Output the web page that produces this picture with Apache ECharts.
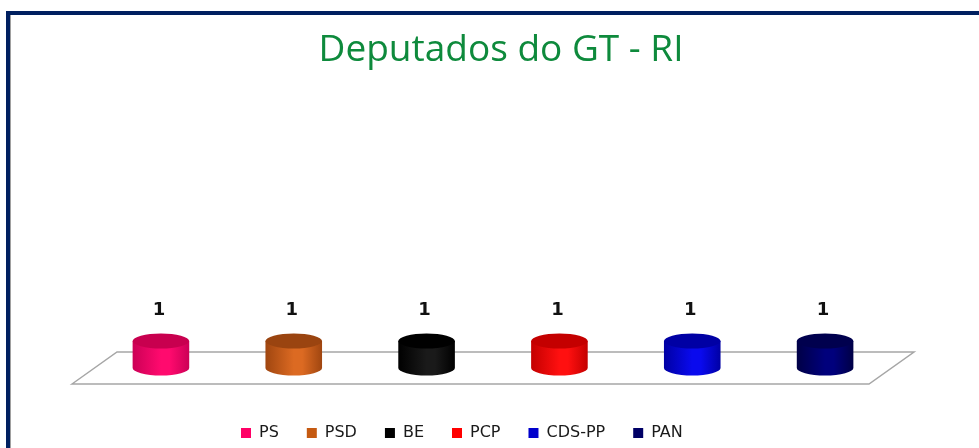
<!DOCTYPE html>
<html>
<head>
<meta charset="utf-8">
<script src="https://cdn.jsdelivr.net/npm/echarts@6/dist/echarts.min.js"></script>
<style>
html,body{margin:0;padding:0;background:#fff;}
#frame{position:absolute;left:6px;top:11px;width:1000px;height:500px;border-left:4px solid #002060;border-top:4px solid #002060;box-sizing:border-box;}
#shade{position:absolute;left:10px;top:15px;width:1px;height:500px;background:#a0a0a0;}
#chart{position:absolute;left:0;top:0;width:979px;height:448px;}
</style>
</head>
<body>
<div id="frame"></div>
<div id="shade"></div>
<div id="chart"></div>
<script>
// ---- data ----
const categories = ['PS', 'PSD', 'BE', 'PCP', 'CDS-PP', 'PAN'];
const deputados = [1, 1, 1, 1, 1, 1];
const titleText = 'Deputados do GT - RI';

// ---- styles ----
const legendColors = ['#ff0066', '#c55a11', '#000000', '#ff0000', '#0000cc', '#000066'];
const bodyLight = ['#ff0a6e', '#dc6a22', '#1a1a1a', '#ff1010', '#0a0aee', '#00007c'];
const bodyDark  = ['#cc0056', '#a04610', '#000000', '#c40000', '#0000a4', '#000046'];
const topColors = ['#c8004f', '#9a4410', '#000000', '#c40000', '#0000a4', '#00004e'];

const chart = echarts.init(document.getElementById('chart'), null, {renderer: 'canvas'});

function makeRender(si) {
  return function (params, api) {
    const children = [];
    const cs = params.coordSys;
    if (si === 0) {
      const y0 = cs.y + cs.height;
      const dx = 22.5, dy = 16;
      children.push({
        type: 'polygon',
        shape: {points: [
          [cs.x - dx, y0 + dy], [cs.x + dx, y0 - dy],
          [cs.x + cs.width + dx, y0 - dy], [cs.x + cs.width - dx, y0 + dy]
        ]},
        style: {fill: '#ffffff', stroke: '#a6a6a6', lineWidth: 1.5}
      });
    }
    const base = api.coord([api.value(0), 0]);
    const top = api.coord([api.value(0), api.value(1)]);
    const band = api.size([1, 0])[0];
    const rx = band * 0.213;
    const ry = 7.5;
    const x = base[0];
    const path = 'M' + (x - rx) + ' ' + top[1] +
      ' L' + (x - rx) + ' ' + base[1] +
      ' A' + rx + ' ' + ry + ' 0 0 0 ' + (x + rx) + ' ' + base[1] +
      ' L' + (x + rx) + ' ' + top[1] + ' Z';
    children.push({
      type: 'path',
      shape: {pathData: path},
      style: {
        fill: new echarts.graphic.LinearGradient(0, 0, 1, 0, [
          {offset: 0, color: bodyDark[si]},
          {offset: 0.5, color: bodyLight[si]},
          {offset: 0.65, color: bodyLight[si]},
          {offset: 1, color: bodyDark[si]}
        ])
      }
    });
    const tp = 'M' + (x - rx) + ' ' + top[1] +
      ' A' + rx + ' ' + ry + ' 0 0 1 ' + (x + rx) + ' ' + top[1] +
      ' A' + rx + ' ' + ry + ' 0 0 1 ' + (x - rx) + ' ' + top[1] + ' Z';
    children.push({
      type: 'path',
      shape: {pathData: tp},
      style: {fill: topColors[si]}
    });
    children.push({
      type: 'text',
      style: {
        text: String(api.value(1)),
        x: x - 2, y: top[1] - 31,
        align: 'center', verticalAlign: 'middle',
        fill: '#111111',
        font: 'bold 18px "DejaVu Sans"'
      }
    });
    return {type: 'group', children: children};
  };
}

const series = categories.map(function (name, i) {
  return {
    type: 'custom',
    name: name,
    itemStyle: {color: legendColors[i]},
    data: [[i, deputados[i]]],
    encode: {x: 0, y: 1},
    renderItem: makeRender(i),
    animation: false
  };
});

chart.setOption({
  animation: false,
  title: {
    text: titleText,
    left: 501,
    textAlign: 'center',
    top: 32,
    padding: 0,
    textStyle: {color: '#0e8a3c', fontFamily: 'Open Sans', fontWeight: 'normal', fontSize: 37}
  },
  legend: {
    data: categories,
    left: 241,
    top: 425,
    padding: 0,
    itemWidth: 10,
    itemHeight: 10,
    itemGap: 28,
    icon: 'rect',
    textStyle: {color: '#1a1a1a', fontFamily: 'DejaVu Sans', fontSize: 16, padding: [0, 0, 0, 3]}
  },
  grid: {left: 94.5, right: 87.5, top: 98, bottom: 80},
  xAxis: {type: 'category', data: categories, show: false},
  yAxis: {type: 'value', min: 0, max: 10, show: false},
  series: series
});
</script>
</body>
</html>
